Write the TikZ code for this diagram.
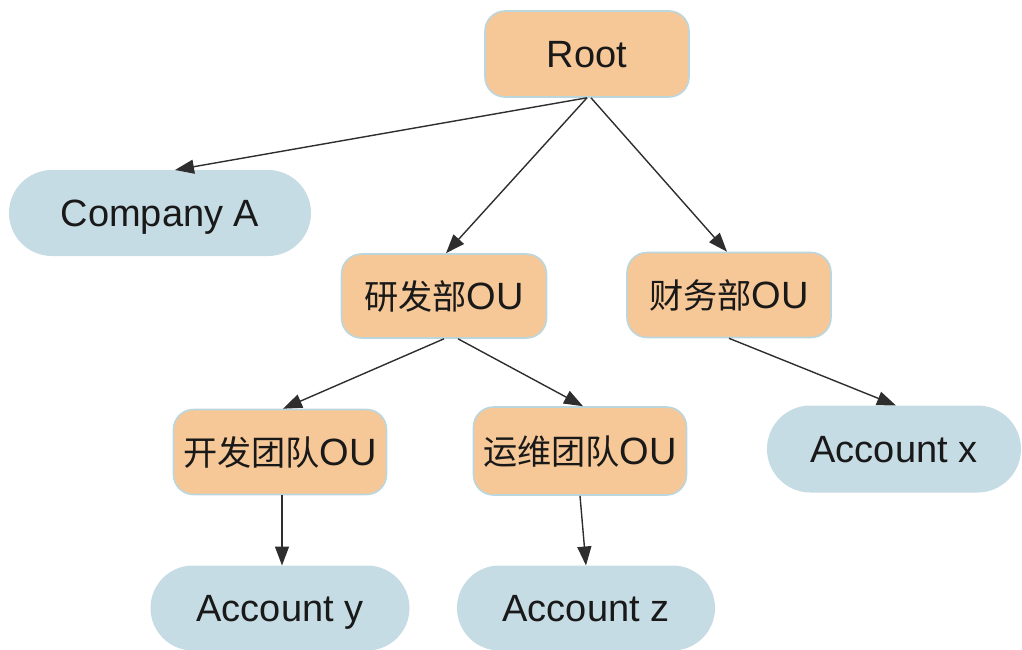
\documentclass[tikz,border=0pt]{standalone}
\usepackage{fontspec}
\setmainfont{Liberation Sans}
\newfontfamily\cjk[Scale=0.9]{Noto Sans CJK SC}
\usetikzlibrary{shapes.misc,arrows.meta}
\definecolor{ouorange}{HTML}{F6C797}
\definecolor{accblue}{HTML}{C6DCE4}
\definecolor{edgeline}{HTML}{BCD6DE}
\definecolor{arrowgray}{HTML}{2E2E2E}
\tikzset{
  ou/.style={draw=edgeline, line width=1.6pt, fill=ouorange, rounded corners=20pt,
    minimum width=205pt, minimum height=86pt, inner sep=0pt, text=black!90,
    text height=27pt, text depth=0pt,
    font=\fontsize{38}{42}\selectfont},
  acc/.style={rounded rectangle, draw=accblue, line width=1pt, fill=accblue,
    minimum height=85pt, inner sep=0pt, text=black!90,
    text height=27pt, text depth=0pt,
    font=\fontsize{38}{42}\selectfont},
  link/.style={draw=arrowgray, line width=1.4pt, -{Triangle[length=19pt,width=14pt]}}
}
\begin{document}
\begin{tikzpicture}[x=1pt,y=-1pt]
\useasboundingbox (0,0) rectangle (1022,650);
\node[ou, minimum width=204pt] (root) at (587,54) {Root};
\node[acc, minimum width=301pt] (ca) at (160,213) {Company A};
\node[ou, minimum height=84pt] (yf) at (444,296) {\cjk 研发部\normalfont OU};
\node[ou, minimum width=204pt, minimum height=85pt] (cw) at (729,295) {\cjk 财务部\normalfont OU};
\node[ou, minimum width=213pt, minimum height=85pt] (kf) at (280,452) {\cjk 开发团队\normalfont OU};
\node[ou, minimum width=213pt, minimum height=88pt] (yw) at (580,451) {\cjk 运维团队\normalfont OU};
\node[acc, minimum width=253pt, minimum height=86pt] (ax) at (894,449) {Account x};
\node[acc, minimum width=258pt, minimum height=84pt] (ay) at (280,608) {Account y};
\node[acc, minimum width=257pt, minimum height=84pt] (az) at (586,608) {Account z};
\draw[link] (root.south) -- ([xshift=15pt]ca.north);
\draw[link] (root.south) -- ([xshift=2pt]yf.north);
\draw[link] ([xshift=4pt]root.south) -- ([xshift=-2pt]cw.north);
\draw[link] (yf.south) -- ([xshift=3pt]kf.north);
\draw[link] ([xshift=14pt]yf.south) -- ([xshift=3pt]yw.north);
\draw[link] (cw.south) -- ([xshift=2pt]ax.north);
\draw[link] ([xshift=2pt]kf.south) -- ([xshift=2pt]ay.north);
\draw[link] (yw.south) -- (az.north);
\end{tikzpicture}
\end{document}
